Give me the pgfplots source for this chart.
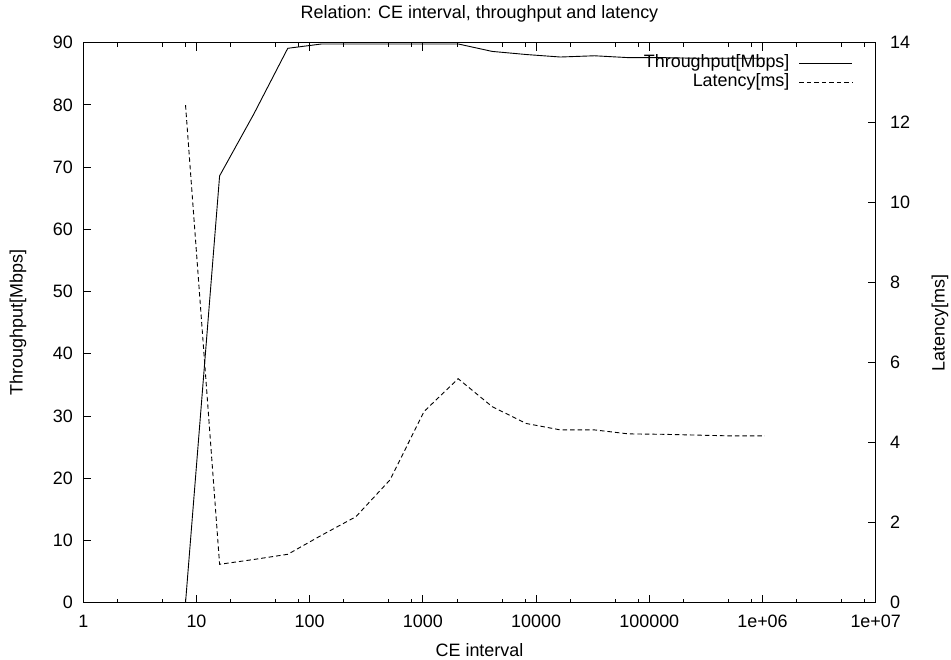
\documentclass[border=0pt]{standalone}
\usepackage{fontspec}
\setmainfont{Liberation Sans}
\usepackage{pgfplots}
\usepackage{pgfplotstable}
\pgfplotsset{compat=1.18}

% CE interval, throughput [Mbps], latency [ms]
\pgfplotstableread{
x thr lat
8 0 12.44
16 68.6 0.96
32 78.5 1.08
64 89.1 1.21
128 89.8 1.69
256 89.8 2.15
512 89.8 3.07
1024 89.8 4.78
2048 89.8 5.60
4096 88.6 4.90
8192 88.1 4.48
16384 87.7 4.32
32768 87.9 4.32
65536 87.6 4.22
131072 87.6 4.21
262144 87.5 4.19
524288 87.5 4.17
1048576 87.5 4.17
}\data

\begin{document}
\begin{tikzpicture}
\path[use as bounding box] (-83.3bp,-57.3bp) rectangle (867.7bp,602.7bp);
\pgfplotsset{
  every axis/.append style={
    scale only axis, width=792.4bp, height=560bp,
    at={(0,0)}, anchor=south west,
    xmode=log, xmin=1, xmax=1e7,
    font=\fontsize{18}{21}\selectfont,
    tick align=inside,
    major tick length=8bp, minor tick length=4bp,
    axis line style={line width=1.1bp},
    every tick/.style={black, line width=0.9bp},
    /pgf/number format/assume math mode=true,
    xticklabel style={font=\fontsize{18}{21}\selectfont, yshift=-9bp},
  }
}
\begin{axis}[
  ymin=0, ymax=90, ytick={0,10,...,90},
  ytick pos=left, xtick pos=both,
  yticklabel style={font=\fontsize{18}{21}\selectfont, xshift=-7bp},
  xtick={1,10,100,1000,10000,100000,1000000,10000000},
  xticklabels={1,10,100,1000,10000,100000,1e+06,1e+07},
  minor xtick={2,5,8,20,50,80,200,500,800,2000,5000,8000,20000,50000,80000,200000,500000,800000,2000000,5000000,8000000},
  xlabel={CE interval},
  ylabel={Throughput[Mbps]},
  title={Relation: CE interval, throughput and latency},
  xlabel style={at={(axis description cs:0.5,-0.0845)}, anchor=center},
  ylabel style={at={(axis description cs:-0.0824,0.5)}, anchor=center},
  title style={at={(axis description cs:0.5,1.0405)}, anchor=center},
  legend cell align=right,
  legend plot pos=right,
  legend image code/.code={\draw[#1] (0bp,0bp) -- (53bp,0bp);},
  legend style={draw=none, fill=none, at={(rel axis cs:0.9714,0.981)}, anchor=north east,
    inner sep=0pt, /tikz/column sep=8bp,
    nodes={inner sep=1.5bp, text height=12.5bp, text depth=3.5bp},
    font=\fontsize{18}{21}\selectfont},
]
\addplot[black, line width=0.9bp] table[x=x, y=thr] {\data};
\addlegendentry{Throughput[Mbps]}
\addlegendimage{black, line width=0.9bp, dash pattern=on 4.5bp off 3bp}
\addlegendentry{Latency[ms]}
\end{axis}
\begin{axis}[
  ymin=0, ymax=14, ytick={0,2,...,14},
  ytick pos=right, yticklabel pos=right,
  yticklabel style={font=\fontsize{18}{21}\selectfont, xshift=11bp},
  xtick=\empty,
  ylabel={Latency[ms]},
  ylabel style={at={(axis description cs:1.081,0.5)}, anchor=center},
]
\addplot[black, line width=0.9bp, dash pattern=on 4.5bp off 3bp] table[x=x, y=lat] {\data};
\end{axis}
\end{tikzpicture}
\end{document}
